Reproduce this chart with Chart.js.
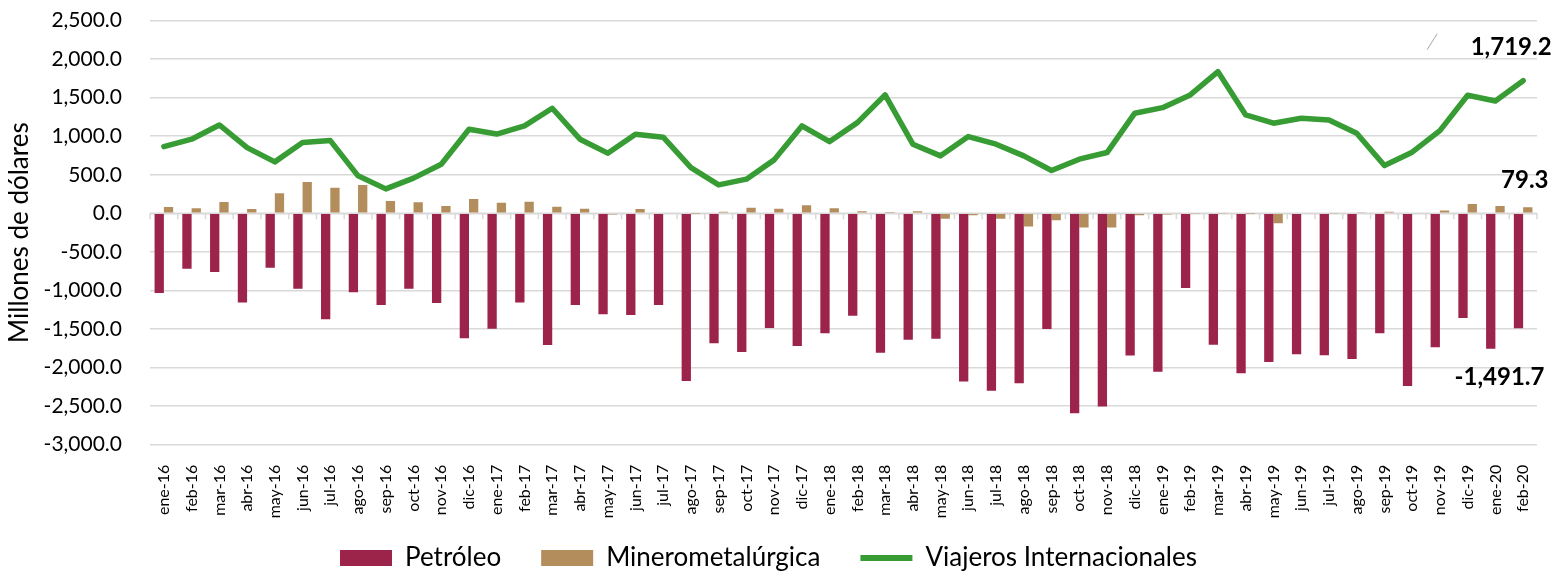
<!DOCTYPE html>
<html>
<head>
<meta charset="utf-8">
<script src="https://cdn.jsdelivr.net/npm/chart.js@4.4.1/dist/chart.umd.min.js"></script>
<style>
  html, body { margin: 0; padding: 0; background: #ffffff; }
  #wrap { width: 1564px; height: 571px; position: relative; }
</style>
</head>
<body>
<div id="wrap"><canvas id="c"></canvas></div>
<script>
const categories = [
  'ene-16','feb-16','mar-16','abr-16','may-16','jun-16','jul-16','ago-16','sep-16','oct-16','nov-16','dic-16',
  'ene-17','feb-17','mar-17','abr-17','may-17','jun-17','jul-17','ago-17','sep-17','oct-17','nov-17','dic-17',
  'ene-18','feb-18','mar-18','abr-18','may-18','jun-18','jul-18','ago-18','sep-18','oct-18','nov-18','dic-18',
  'ene-19','feb-19','mar-19','abr-19','may-19','jun-19','jul-19','ago-19','sep-19','oct-19','nov-19','dic-19',
  'ene-20','feb-20'
];

const petroleo = [
  -1034, -719, -762, -1155, -706, -978, -1375, -1025, -1189, -978, -1163, -1621,
  -1496, -1155, -1707, -1189, -1310, -1319, -1189, -2173, -1686, -1798, -1487, -1720,
  -1556, -1327, -1807, -1638, -1625, -2182, -2299, -2204, -1500, -2593, -2506, -1845,
  -2053, -969, -1703, -2075, -1927, -1828, -1841, -1888, -1556, -2238, -1738, -1357,
  -1755, -1491.7
];

const minero = [
  82, 65, 147, 56, 260, 405, 333, 367, 160, 143, 95, 186,
  138, 151, 86, 60, -15, 56, 10, -3, 20, 73, 60, 104,
  67, 26, 5, 26, -70, -25, -70, -170, -90, -185, -185, -25,
  -15, -5, -5, -3, -130, 12, -5, 15, 20, 10, 35, 120,
  95, 79.3
];

const viajeros = [
  865, 961, 1146, 852, 667, 917, 943, 486, 317, 456, 637, 1090,
  1028, 1133, 1362, 961, 780, 1025, 987, 593, 369, 443, 693, 1133,
  930, 1176, 1535, 896, 745, 995, 896, 745, 555, 702, 788, 1298,
  1370, 1535, 1836, 1276, 1168, 1233, 1211, 1038, 619, 793, 1072, 1531,
  1457, 1719.2
];

const yTicks = { min: -3000, max: 2500, step: 500 };

const seriesNames = ['Petróleo', 'Minerometalúrgica', 'Viajeros Internacionales'];
const colors = { petroleo: '#9C2349', minero: '#B38D5C', viajeros: '#389C34', grid: '#D9D9D9' };

const FONT = 'Lato, "Open Sans", "Noto Sans", sans-serif';

function fmt(v) {
  return Number(v).toLocaleString('en-US', { minimumFractionDigits: 1, maximumFractionDigits: 1 });
}

// tick marks along the zero line at category boundaries
const zeroTicks = {
  id: 'zeroTicks',
  beforeDatasetsDraw(chart) {
    const x = chart.scales.x, y = chart.scales.y;
    const y0 = y.getPixelForValue(0);
    const ctx = chart.ctx;
    const step = x.getPixelForValue(1) - x.getPixelForValue(0);
    ctx.save();
    ctx.strokeStyle = colors.grid;
    ctx.lineWidth = 1.5;
    ctx.beginPath();
    ctx.moveTo(x.left, y0);
    ctx.lineTo(x.right, y0);
    for (let i = 0; i <= categories.length; i++) {
      const px = x.getPixelForValue(0) - step / 2 + i * step;
      ctx.moveTo(px, y0);
      ctx.lineTo(px, y0 + 6);
    }
    ctx.stroke();
    ctx.restore();
  }
};

// value labels for the last month
const lastLabels = {
  id: 'lastLabels',
  afterDatasetsDraw(chart) {
    const ctx = chart.ctx;
    const last = categories.length - 1;
    ctx.save();
    ctx.font = 'bold 24px ' + FONT;
    ctx.fillStyle = '#000';
    ctx.textAlign = 'center';
    ctx.textBaseline = 'middle';
    const pLine = chart.getDatasetMeta(2).data[last];
    ctx.fillText(fmt(viajeros[last]), pLine.x - 12, pLine.y - 33);
    const pMin = chart.getDatasetMeta(1).data[last];
    ctx.fillText(fmt(minero[last]), pMin.x - 3, pMin.y - 27);
    const pPet = chart.getDatasetMeta(0).data[last];
    ctx.fillText(fmt(petroleo[last]), pPet.x - 19, pPet.y + 49);
    // small stray stroke near the top label
    ctx.strokeStyle = '#A6A6A6';
    ctx.lineWidth = 1;
    ctx.beginPath();
    ctx.moveTo(pLine.x - 96, pLine.y - 31);
    ctx.lineTo(pLine.x - 86, pLine.y - 47);
    ctx.stroke();
    ctx.restore();
  }
};

const chart = new Chart(document.getElementById('c'), {
  type: 'bar',
  data: {
    labels: categories,
    datasets: [
      {
        type: 'bar',
        label: seriesNames[0],
        data: petroleo,
        backgroundColor: colors.petroleo,
        borderWidth: 0,
        categoryPercentage: 0.67,
        barPercentage: 1.0
      },
      {
        type: 'bar',
        label: seriesNames[1],
        data: minero,
        backgroundColor: colors.minero,
        borderWidth: 0,
        categoryPercentage: 0.67,
        barPercentage: 1.0
      },
      {
        type: 'line',
        label: seriesNames[2],
        data: viajeros,
        borderColor: colors.viajeros,
        backgroundColor: colors.viajeros,
        borderWidth: 5.5,
        pointRadius: 0,
        tension: 0,
        borderJoinStyle: 'round',
        borderCapStyle: 'round',
        fill: false
      }
    ]
  },
  options: {
    responsive: true,
    maintainAspectRatio: false,
    animation: false,
    layout: { padding: { top: 20.5, right: 27, left: 0, bottom: -10 } },
    plugins: {
      tooltip: { enabled: false },
      legend: {
        position: 'bottom',
        labels: {
          font: { family: FONT, size: 26 },
          color: '#000',
          usePointStyle: true,
          pointStyleWidth: 52,
          boxHeight: 16,
          padding: 40,
          generateLabels(chart) {
            const items = Chart.defaults.plugins.legend.labels.generateLabels(chart);
            return items.map((it, i) => {
              if (i === 2) {
                it.pointStyle = 'line';
                it.lineWidth = 6;
                it.strokeStyle = colors.viajeros;
              } else {
                it.pointStyle = 'rect';
                it.lineWidth = 0;
              }
              return it;
            });
          }
        }
      }
    },
    scales: {
      x: {
        grid: { display: false },
        border: { display: false },
        ticks: {
          autoSkip: false,
          maxRotation: 90,
          minRotation: 90,
          padding: 12,
          color: '#000',
          font: { family: FONT, size: 16 }
        },
        afterFit(scale) {
          scale.height = 60.3;
          // let rotated labels run past the (short) axis box instead of being clipped
          scale._computeLabelArea = function () { return undefined; };
        }
      },
      y: {
        min: yTicks.min,
        max: yTicks.max,
        border: { display: false },
        grid: { color: colors.grid, lineWidth: 1.5, drawTicks: true, tickLength: 28, tickColor: 'rgba(0,0,0,0)' },
        ticks: {
          stepSize: yTicks.step,
          padding: 0,
          color: '#000',
          font: { family: FONT, size: 21 },
          callback: (v) => fmt(v)
        },
        title: {
          display: true,
          text: 'Millones de dólares',
          color: '#000',
          font: { family: FONT, size: 26 },
          padding: { top: 4, bottom: 0 }
        },
        afterFit(scale) { scale.width = 150; }
      }
    }
  },
  plugins: [zeroTicks, lastLabels]
});
</script>
</body>
</html>
